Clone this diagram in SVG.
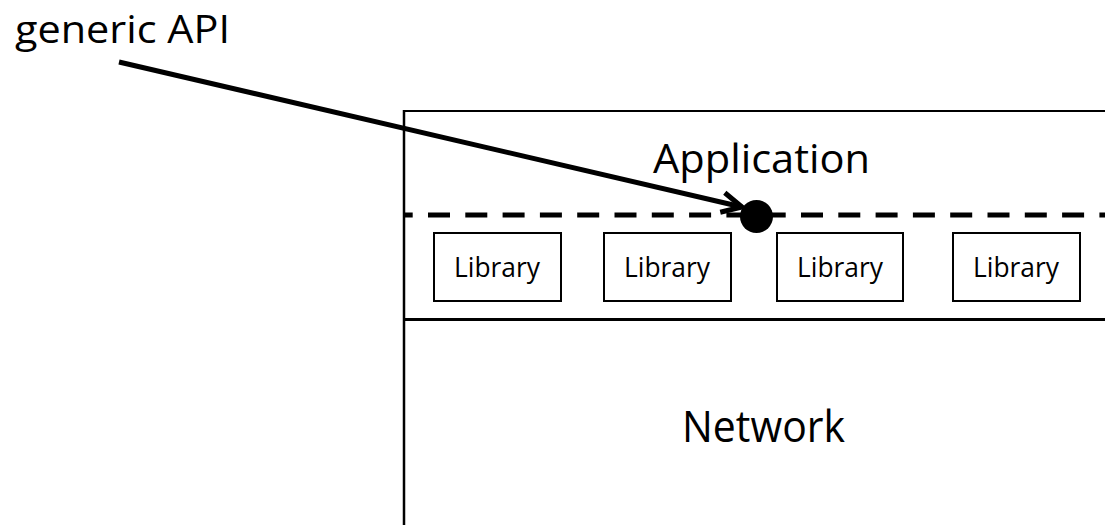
<svg xmlns="http://www.w3.org/2000/svg" width="1105" height="525" viewBox="0 0 1105 525">
  <style>
    .txt { font-family: "Open Sans", "Liberation Sans", sans-serif; fill: #000; }
    .lib { fill: #fff; stroke: #000; stroke-width: 2; }
    .edge { stroke: #000; fill: none; }
  </style>
  <defs>
    <marker id="openArrow" markerUnits="userSpaceOnUse" markerWidth="40" markerHeight="40" refX="0" refY="0" orient="auto" overflow="visible">
      <path d="M-20,-10 L0,0 L-20,10" fill="none" stroke="#000" stroke-width="5" stroke-linejoin="miter" stroke-linecap="butt"/>
    </marker>
  </defs>
  <rect width="1105" height="525" fill="#fff"/>

  <g id="stack-frame">
    <line class="edge" x1="404" y1="111" x2="1105" y2="111" stroke-width="2"/>
    <line class="edge" x1="404" y1="110" x2="404" y2="525" stroke-width="2.5"/>
    <line class="edge" x1="404" y1="319.5" x2="1105" y2="319.5" stroke-width="3"/>
  </g>

  <g id="application-layer">
    <text class="txt" x="653" y="173" font-size="39.5" textLength="217" lengthAdjust="spacingAndGlyphs">Application</text>
  </g>

  <g id="api-boundary">
    <line class="edge" x1="404" y1="215" x2="1105" y2="215" stroke-width="5" stroke-dasharray="22 15.3" stroke-dashoffset="13.3"/>
    <circle cx="756.5" cy="216.5" r="16.5" fill="#000"/>
  </g>

  <g id="library-1">
    <rect class="lib" x="434" y="233" width="127" height="68"/>
    <text class="txt" x="454" y="277" font-size="27" textLength="86" lengthAdjust="spacingAndGlyphs">Library</text>
  </g>
  <g id="library-2">
    <rect class="lib" x="604" y="233" width="127" height="68"/>
    <text class="txt" x="624" y="277" font-size="27" textLength="86" lengthAdjust="spacingAndGlyphs">Library</text>
  </g>
  <g id="library-3">
    <rect class="lib" x="777" y="233" width="126" height="68"/>
    <text class="txt" x="797" y="277" font-size="27" textLength="86" lengthAdjust="spacingAndGlyphs">Library</text>
  </g>
  <g id="library-4">
    <rect class="lib" x="953" y="233" width="127" height="68"/>
    <text class="txt" x="973" y="277" font-size="27" textLength="86" lengthAdjust="spacingAndGlyphs">Library</text>
  </g>

  <g id="network-layer">
    <text class="txt" x="682" y="442" font-size="43" textLength="163" lengthAdjust="spacingAndGlyphs">Network</text>
  </g>

  <g id="generic-api-label">
    <text class="txt" x="15" y="42.5" font-size="39" textLength="215" lengthAdjust="spacingAndGlyphs">generic API</text>
  </g>

  <g id="connectors">
    <line class="edge" x1="119" y1="62" x2="742" y2="207" stroke-width="5" marker-end="url(#openArrow)"/>
  </g>
</svg>
